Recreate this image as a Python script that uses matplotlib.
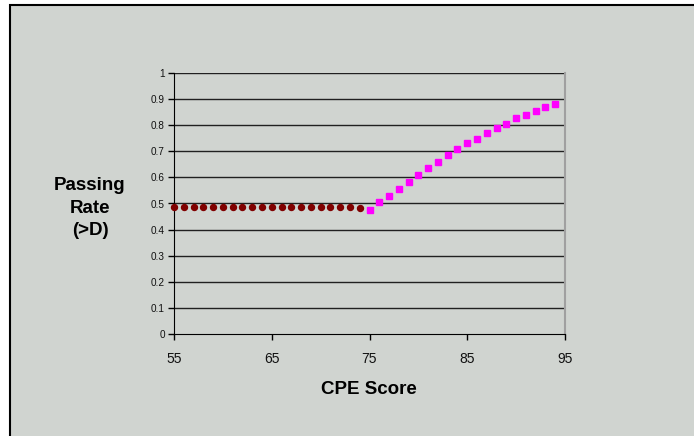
import matplotlib
matplotlib.use("Agg")
import matplotlib.pyplot as plt
from matplotlib.patches import Rectangle

# scores below 75 (dark red circles) and from 75 up (magenta squares)
low_scores = [55, 56, 57, 58, 59, 60, 61, 62, 63, 64,
              65, 66, 67, 68, 69, 70, 71, 72, 73, 74]
low_rates = [0.488, 0.488, 0.488, 0.488, 0.488, 0.488, 0.488, 0.488, 0.488, 0.488,
             0.487, 0.487, 0.487, 0.487, 0.487, 0.487, 0.487, 0.486, 0.486, 0.482]

high_scores = [75, 76, 77, 78, 79, 80, 81, 82, 83, 84,
               85, 86, 87, 88, 89, 90, 91, 92, 93, 94]
high_rates = [0.474, 0.504, 0.530, 0.557, 0.584, 0.611, 0.637, 0.660, 0.687, 0.710,
              0.730, 0.748, 0.771, 0.790, 0.806, 0.826, 0.840, 0.853, 0.868, 0.880]

x_ticks = [55, 65, 75, 85, 95]
y_ticks = [0, 0.1, 0.2, 0.3, 0.4, 0.5, 0.6, 0.7, 0.8, 0.9, 1]
y_labels = ["0", "0.1", "0.2", "0.3", "0.4", "0.5", "0.6", "0.7", "0.8", "0.9", "1"]

BG = "#D0D4D0"
W, H = 694, 436

plt.rcParams["font.family"] = ["Liberation Sans", "DejaVu Sans"]

fig = plt.figure(figsize=(W / 100, H / 100), dpi=100)
fig.patch.set_facecolor("white")

# chart area frame (only left and top edges are visible in the picture)
frame = Rectangle((9.5 / W, -0.05), 1.0, (H - 5) / H + 0.05,
                  transform=fig.transFigure, facecolor=BG,
                  edgecolor="black", linewidth=1.5, zorder=-5)
fig.patches.append(frame)

ax = fig.add_axes([174 / W, (H - 334) / H, (565 - 174) / W, (334 - 73) / H])
ax.set_zorder(2)
ax.set_facecolor(BG)

ax.set_xlim(55, 95)
ax.set_ylim(0, 1)
ax.set_xticks(x_ticks)
ax.set_yticks(y_ticks)
ax.set_yticklabels(y_labels)

for y in y_ticks[1:]:
    ax.axhline(y, color="#202020", linewidth=1.0, zorder=1)

ax.plot(low_scores, low_rates, linestyle="none", marker="o", markersize=4.3,
        color="#800000", markeredgecolor="#800000", clip_on=False, zorder=3)
ax.plot(high_scores, high_rates, linestyle="none", marker="s", markersize=5.0,
        color="#FF00FF", markeredgecolor="#FF00FF", clip_on=False, zorder=3)

ax.spines["top"].set_visible(False)
ax.spines["right"].set_color("#A0A0A0")
ax.spines["right"].set_linewidth(1.5)
ax.spines["left"].set_color("black")
ax.spines["bottom"].set_color("black")

ax.tick_params(axis="x", direction="out", length=4, width=1, pad=9,
               labelsize=10, colors="black", labelcolor="#111111")
ax.tick_params(axis="y", direction="out", length=4, width=1, pad=2.5,
               labelsize=7.2, colors="black", labelcolor="#111111")

fig.text(369 / W, 1 - 389 / H, "CPE Score", ha="center", va="center",
         fontsize=13.5, fontweight="bold", zorder=3)
fig.text(90 / W, 1 - 208 / H, "Passing\nRate\n(>D)", ha="center", va="center",
         multialignment="center", fontsize=13.5, fontweight="bold",
         linespacing=1.4, zorder=3)

fig.savefig("out.png", dpi=100, facecolor=fig.get_facecolor())
